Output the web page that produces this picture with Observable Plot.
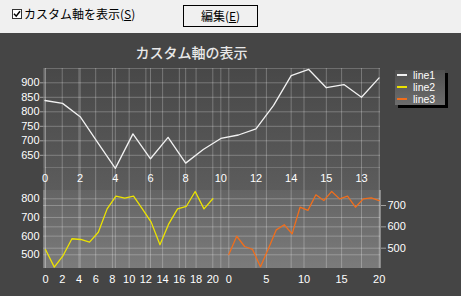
<!DOCTYPE html>
<html><head><meta charset="utf-8">
<script src="https://cdn.jsdelivr.net/npm/d3@7"></script>
<script src="https://cdn.jsdelivr.net/npm/@observablehq/plot@0.6"></script>
<style>
html,body{margin:0;padding:0;}
body{width:461px;height:296px;overflow:hidden;background:#454545;}
#root{position:relative;width:461px;height:296px;background:#454545;font-family:"Noto Sans CJK JP","Noto Sans",sans-serif;overflow:hidden;}
#bar{position:absolute;left:0;top:0;width:461px;height:33px;background:#f0f0f0;}
#cb{position:absolute;left:12px;top:9px;width:8px;height:8px;border:1px solid #333;background:#fff;}
#cb svg{position:absolute;left:0;top:0;}
#cbl{position:absolute;left:24px;top:6px;font-size:12px;line-height:16px;color:#000;white-space:nowrap;}
#btn{position:absolute;left:183px;top:5px;width:73px;height:20px;border:1px solid #000;font-size:12px;line-height:20px;text-align:center;color:#000;white-space:nowrap;}
#title{position:absolute;left:0;width:383px;top:43px;text-align:center;font-size:14px;line-height:18px;color:#e8e8e8;white-space:nowrap;font-weight:500;}
#topbg{position:absolute;left:43px;top:68px;width:337px;height:122px;background:linear-gradient(#484848,#5c5c5c);}
#topline{position:absolute;left:43px;top:167px;width:337px;height:1px;background:#747474;}
#toptop{position:absolute;left:43px;top:68px;width:337px;height:1px;background:#6e6e6e;}
#topleft{position:absolute;left:43px;top:68px;width:2px;height:100px;background:#5f5f5f;}
#botbg{position:absolute;left:43px;top:190px;width:337px;height:78px;background:linear-gradient(#646464,#7b7b7b);}
#botleft{position:absolute;left:43px;top:190px;width:2px;height:78px;background:#7a7a7a;}
#botright{position:absolute;left:379px;top:190px;width:2px;height:78px;background:#888;}
#legend{position:absolute;left:395px;top:70px;width:50px;height:35px;background:linear-gradient(#4f4f4f,#6d6d6d);box-shadow:3px 3px 0 #000;z-index:10;}
.lrow{position:absolute;left:0;width:50px;height:12px;}
.sw{position:absolute;display:block;left:2px;top:5px;width:10px;height:2px;}
.lt{position:absolute;display:block;left:18px;top:0;font-family:"Liberation Sans",Arial,sans-serif;font-size:10.5px;line-height:12px;color:#ffffff !important;}
</style></head><body>
<div id="root">
  <div id="bar">
    <div id="cb"><svg width="8" height="8" viewBox="0 0 8 8"><path d="M1 3.8 L3.2 6.2 L7 1.3" fill="none" stroke="#000" stroke-width="1.5"/></svg></div>
    <div id="cbl">カスタム軸を表示(<u>S</u>)</div>
    <div id="btn">編集(<u>E</u>)</div>
  </div>
  <div id="title">カスタム軸の表示</div>
  <div id="topbg"></div>
  <div id="topline"></div>
  <div id="toptop"></div>
  <div id="topleft"></div>
  <div id="botbg"></div>
  <div id="botleft"></div>
  <div id="botright"></div>
  <div id="legend"></div>
</div>
<script>
// ---- data ----
const seriesNames = ["line1", "line2", "line3"];
const seriesColors = ["#f2f2f2", "#ece300", "#f06e1c"];
const line1 = [839, 829, 783, 694, 605, 724, 638, 712, 623, 670, 708, 720, 741, 822, 925, 946, 883, 894, 850, 917];
const line2 = [528, 434, 496, 586, 582, 568, 621, 746, 814, 803, 814, 746, 675, 554, 666, 746, 760, 839, 746, 800];
const line3 = [470, 556, 508, 494, 413, 497, 586, 610, 567, 692, 677, 750, 723, 766, 731, 744, 692, 731, 736, 723];
const topXTicks = [0, 2, 4, 6, 8, 10, 12, 14, 16, 18];
const topXLabels = ["0", "2", "4", "6", "8", "10", "12", "14", "15", "13"];
const topYTicks = [650, 700, 750, 800, 850, 900];
const leftXTicks = [0, 2, 4, 6, 8, 10, 12, 14, 16, 18, 20];
const leftYTicks = [500, 600, 700, 800];
const rightXTicks = [0, 5, 10, 15, 20];
const rightYTicks = [500, 600, 700];

// ---- layout ----
const FRAME = {width: 461, height: 296, marginLeft: 43, marginRight: 81, marginTop: 68, marginBottom: 28};
const FONT = "'Liberation Sans', Arial, sans-serif";
const gridOpts = {stroke: "#ffffff", strokeOpacity: 0.26, strokeWidth: 1};

function rows(values, xMax) {
  const n = values.length;
  return values.map((v, i) => ({x: i * xMax / (n - 1), y: v}));
}

const panels = [
  {x: {domain: [0, 18], range: [44.5, 361]}, y: {domain: [650, 900], range: [154.8, 82.3]},
   xTicks: topXTicks, xLabels: topXLabels, yTicks: topYTicks, data: rows(line1, 19), color: seriesColors[0],
   yAnchor: "left", yTickSize: 3, yTickPadding: 1, xDy: -101},
  {x: {domain: [0, 20], range: [45, 212.3]}, y: {domain: [500, 800], range: [254.3, 198.3]},
   xTicks: leftXTicks, xLabels: leftXTicks.map(String), yTicks: leftYTicks, data: rows(line2, 20), color: seriesColors[1],
   yAnchor: "left", yTickSize: 0, yTickPadding: 4, xDy: 0},
  {x: {domain: [0, 20], range: [228.3, 378.7]}, y: {domain: [500, 700], range: [247.7, 205]},
   xTicks: rightXTicks, xLabels: rightXTicks.map(String), yTicks: rightYTicks, data: rows(line3, 20), color: seriesColors[2],
   yAnchor: "right", yTickSize: 5, yTickPadding: 2, xDy: 0}
];

const root = document.getElementById("root");
function place(svg) {
  svg.style.position = "absolute";
  svg.style.left = "0px";
  svg.style.top = "0px";
  svg.style.background = "transparent";
  svg.style.overflow = "visible";
  root.insertBefore(svg, document.getElementById("legend"));
}
const style = {background: "transparent", color: "#ffffff", fontFamily: FONT, fontSize: "11px"};

// grids first (all panels), then lines and axes
for (const p of panels) {
  place(Plot.plot({
    ...FRAME, style,
    x: {...p.x, axis: null}, y: {...p.y, axis: null},
    marks: [Plot.gridX(p.xTicks, gridOpts), Plot.gridY(p.yTicks, gridOpts)]
  }));
}
for (const p of panels) {
  place(Plot.plot({
    ...FRAME, style,
    x: {...p.x, axis: null}, y: {...p.y, axis: null},
    marks: [
      Plot.line(p.data, {x: "x", y: "y", stroke: p.color, strokeWidth: 1.3}),
      Plot.axisY(p.yTicks, {anchor: p.yAnchor, tickSize: p.yTickSize, tickPadding: p.yTickPadding,
        stroke: "#a0a0a0", fill: "#ffffff", label: null, fontSize: 11}),
      Plot.axisX(p.xTicks, {anchor: "bottom", tickSize: 0, tickPadding: 7, dy: p.xDy,
        fill: "#ffffff", label: null, fontSize: 11,
        tickFormat: d => p.xLabels[p.xTicks.indexOf(d)]})
    ]
  }));
}

// legend
const legend = document.getElementById("legend");
seriesNames.forEach((name, i) => {
  const row = document.createElement("div");
  row.className = "lrow";
  row.style.top = (-1.5 + i * 12.4) + "px";
  const sw = document.createElement("span");
  sw.className = "sw";
  sw.style.background = seriesColors[i];
  const t = document.createElement("span");
  t.className = "lt";
  t.textContent = name;
  row.appendChild(sw); row.appendChild(t);
  legend.appendChild(row);
});
</script>
</body></html>
